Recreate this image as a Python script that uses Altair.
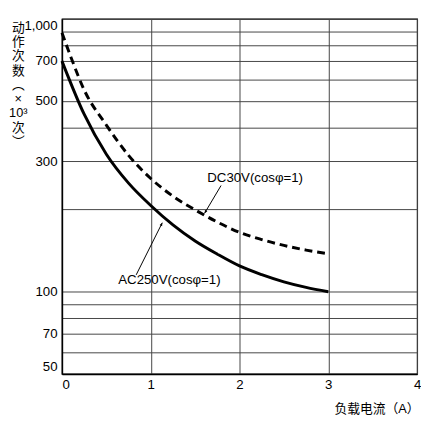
import altair as alt
import pandas as pd

# AC250V (cosφ=1) curve, solid
ac_x = [0, 0.25, 0.5, 0.75, 1.0, 1.25, 1.5, 1.75, 2.0, 2.25, 2.5, 2.75, 3.0]
ac_y = [700, 447, 319, 250, 207, 175.7, 153.4, 137.3, 124.3, 115.5, 108.7, 103.7, 100]
# DC30V (cosφ=1) curve, dashed
dc_x = [0, 0.1, 0.25, 0.5, 0.75, 1.0, 1.25, 1.5, 1.75, 2.0, 2.25, 2.5, 2.75, 3.0]
dc_y = [889, 725, 549, 408, 316, 260, 224, 199.5, 180, 165, 155.3, 147.8, 142.1, 137.8]

# annotations
label_text = ["AC250V(cosφ=1)", "DC30V(cosφ=1)"]
label_x = [0.634, 1.637]
label_y = [110, 261]
arrow_x = [0.836, 1.792]
arrow_y = [115.3, 245]
arrow_x2 = [1.13, 1.607]
arrow_y2 = [179, 194]
arrow_angle = [26.6, 210.5]

x_ticks = [0, 1, 2, 3, 4]
y_grid = [50, 60, 70, 80, 90, 100, 200, 300, 400, 500, 600, 700, 800, 900, 1000]
y_labels = [50, 70, 100, 300, 500, 700, 1000]
y_title = ["动", "作", "次", "数", "︵", "×", "10³", "次", "︶"]
x_title = "负载电流（A）"

LATIN = "Liberation Sans"
MIX = "Liberation Sans, Noto Sans CJK SC"
GRID = "#444444"

ac = pd.DataFrame({"x": ac_x, "y": ac_y})
dc = pd.DataFrame({"x": dc_x, "y": dc_y})
labels = pd.DataFrame({"x": label_x, "y": label_y, "t": label_text})
arrows = pd.DataFrame({"x": arrow_x, "y": arrow_y, "x2": arrow_x2, "y2": arrow_y2, "a": arrow_angle})

x_scale = alt.Scale(domain=[0, 4], nice=False, zero=False)
y_scale = alt.Scale(type="log", domain=[50, 1000], nice=False)

label_set = ",".join(str(v) for v in y_labels)

x_axis = alt.Axis(
    values=x_ticks, grid=True, gridColor=GRID, gridWidth=1, ticks=False,
    domainColor="black", domainWidth=1.5, format="d",
    labelFont=LATIN, labelFontSize=13.5, labelColor="black", labelPadding=4,
    labelFlush=False,
    labelAlign={"condition": {"test": "datum.value == 0", "value": "left"}, "value": "center"},
    title=x_title, titleFont=MIX, titleFontSize=13, titleFontWeight="normal",
    titleColor="black", titleAnchor="end", titleAlign="right",
    titleX=364, titleY=35, titleBaseline="middle",
)
y_axis = alt.Axis(
    values=y_grid, grid=True, gridColor=GRID, gridWidth=1, ticks=False,
    domainColor="black", domainWidth=1.5,
    labelExpr=f"indexof([{label_set}], datum.value) >= 0 ? format(datum.value, ',') : ''",
    labelFont=LATIN, labelFontSize=13.5, labelColor="black", labelPadding=5,
    labelFlush=True, labelOverlap=False,
    title=y_title, titleFont=MIX, titleFontSize=13, titleFontWeight="normal",
    titleColor="black", titleAngle=0, titleX=-45, titleY=3,
    titleBaseline="top", titleAlign="center", titleLineHeight=14.5,
)

X = alt.X("x:Q", scale=x_scale, axis=x_axis)
Y = alt.Y("y:Q", scale=y_scale, axis=y_axis)

ac_line = alt.Chart(ac).mark_line(color="black", strokeWidth=3, interpolate="monotone").encode(x=X, y=Y)
dc_line = alt.Chart(dc).mark_line(color="black", strokeWidth=3, strokeDash=[8, 5], interpolate="monotone").encode(x=X, y=Y)

arrow_lines = alt.Chart(arrows).mark_rule(color="black", strokeWidth=1).encode(
    x=X, y=Y, x2="x2:Q", y2="y2:Q"
)
heads = alt.Chart(arrows).mark_point(
    shape="M0,0 L-0.45,1 L0.45,1 Z", filled=True, color="black", opacity=1, size=40
).encode(
    x=alt.X("x2:Q", scale=x_scale, axis=x_axis),
    y=alt.Y("y2:Q", scale=y_scale, axis=y_axis),
    angle=alt.Angle("a:Q", scale=None),
)
texts = alt.Chart(labels).mark_text(
    align="left", baseline="middle", font=LATIN, fontSize=13.5, color="black"
).encode(x=X, y=Y, text="t:N")

chart = alt.layer(ac_line, dc_line, arrow_lines, heads, texts).properties(
    width=362, height=362,
    padding={"left": 55, "top": 7, "right": 4, "bottom": 44},
    autosize=alt.AutoSizeParams(type="none"),
).configure_view(stroke="black", strokeWidth=1.2)

chart.save("out.html", embed_options={"renderer": "svg", "actions": False})
